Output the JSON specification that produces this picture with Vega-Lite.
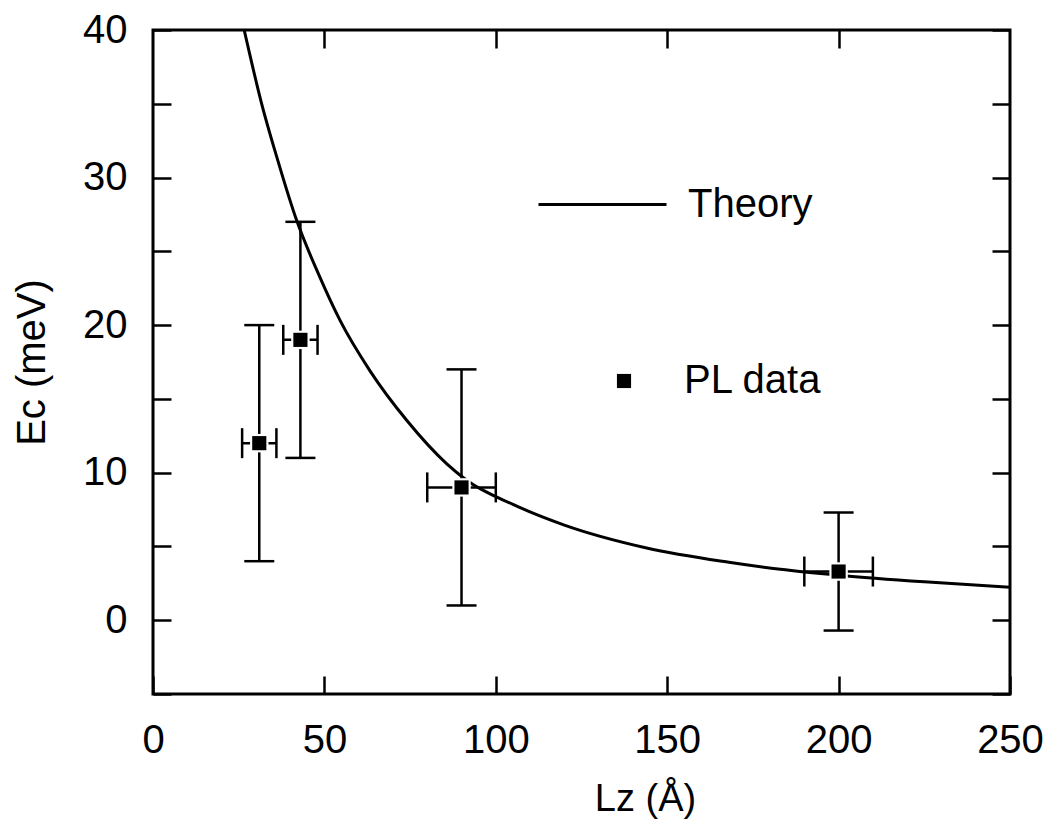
{
  "$schema": "https://vega.github.io/schema/vega-lite/v6.json",
  "width": 857,
  "height": 664,
  "autosize": {"type": "none"},
  "padding": {"left": 153, "top": 30, "right": 38, "bottom": 128},
  "background": "white",
  "config": {
    "view": {"stroke": "black", "strokeWidth": 3},
    "font": "Liberation Sans",
    "axis": {
      "domain": false,
      "grid": false,
      "tickColor": "black",
      "tickWidth": 2.5,
      "tickSize": -18,
      "labelFontSize": 40,
      "labelColor": "black",
      "labelFont": "Liberation Sans",
      "titleFont": "Liberation Sans",
      "titleFontWeight": "normal",
      "titleColor": "black",
      "labelOverlap": false,
      "labelFlush": false
    },
    "legend": {
      "labelFont": "Liberation Sans",
      "labelFontSize": 40,
      "labelColor": "black",
      "labelLimit": 400,
      "padding": 0,
      "title": null
    }
  },
  "datasets": {
    "theory": [
      {"L": 26.6, "E": 40.0},
      {"L": 31.7, "E": 35.0},
      {"L": 36.1, "E": 31.4},
      {"L": 41.9, "E": 27.1},
      {"L": 48.2, "E": 23.5},
      {"L": 54.6, "E": 20.3},
      {"L": 63.3, "E": 16.9},
      {"L": 74, "E": 13.55},
      {"L": 85.7, "E": 10.6},
      {"L": 91.5, "E": 9.49},
      {"L": 105, "E": 7.85},
      {"L": 120, "E": 6.45},
      {"L": 144, "E": 4.9},
      {"L": 168, "E": 3.93},
      {"L": 183, "E": 3.45},
      {"L": 200, "E": 3.05},
      {"L": 225, "E": 2.6},
      {"L": 250, "E": 2.24}
    ],
    "pl": [
      {"L": 31, "E": 12, "Elo": 4, "Ehi": 20, "Llo": 26, "Lhi": 36, "series": "PL data"},
      {"L": 43, "E": 19, "Elo": 11, "Ehi": 27, "Llo": 38, "Lhi": 48, "series": "PL data"},
      {"L": 90, "E": 9, "Elo": 1, "Ehi": 17, "Llo": 80, "Lhi": 100, "series": "PL data"},
      {"L": 200, "E": 3.3, "Elo": -0.7, "Ehi": 7.3, "Llo": 190, "Lhi": 210, "series": "PL data"}
    ]
  },
  "layer": [
    {
      "data": {"name": "theory"},
      "mark": {"type": "line", "strokeWidth": 3, "clip": true, "interpolate": "monotone"},
      "encoding": {
        "x": {
          "field": "L", "type": "quantitative",
          "scale": {"domain": [0, 250], "nice": false, "zero": false},
          "axis": {"orient": "bottom", "values": [0, 50, 100, 150, 200, 250], "title": "Lz (Å)", "titleFontSize": 38, "labelPadding": 44, "titlePadding": 20, "titleX": 492}
        },
        "y": {
          "field": "E", "type": "quantitative",
          "scale": {"domain": [-5, 40], "nice": false, "zero": false},
          "axis": {"orient": "left", "values": [-5, 0, 5, 10, 15, 20, 25, 30, 35, 40], "labelExpr": "datum.value % 10 === 0 ? datum.label : ''", "title": "Ec (meV)", "titleFontSize": 40, "labelPadding": 44, "titlePadding": 30}
        },
        "color": {
          "datum": "Theory",
          "type": "nominal",
          "scale": {"domain": ["Theory"], "range": ["black"]},
          "legend": {
            "orient": "none",
            "legendX": 384,
            "legendY": 109,
            "symbolType": "stroke",
            "symbolSize": 16384,
            "symbolStrokeWidth": 3,
            "symbolStrokeColor": "black",
            "labelOffset": 20
          }
        }
      }
    },
    {
      "data": {"name": "pl"},
      "mark": {"type": "rule", "color": "black", "strokeWidth": 2.5},
      "encoding": {
        "x": {"field": "L", "type": "quantitative", "axis": null},
        "y": {"field": "Elo", "type": "quantitative", "axis": null},
        "y2": {"field": "Ehi"}
      }
    },
    {
      "data": {"name": "pl"},
      "mark": {"type": "rule", "color": "black", "strokeWidth": 2.5},
      "encoding": {
        "x": {"field": "Llo", "type": "quantitative", "axis": null},
        "x2": {"field": "Lhi"},
        "y": {"field": "E", "type": "quantitative", "axis": null}
      }
    },
    {
      "data": {"name": "pl"},
      "mark": {"type": "tick", "orient": "horizontal", "size": 30, "thickness": 2.5, "color": "black", "opacity": 1},
      "encoding": {
        "x": {"field": "L", "type": "quantitative", "axis": null},
        "y": {"field": "Elo", "type": "quantitative", "axis": null}
      }
    },
    {
      "data": {"name": "pl"},
      "mark": {"type": "tick", "orient": "horizontal", "size": 30, "thickness": 2.5, "color": "black", "opacity": 1},
      "encoding": {
        "x": {"field": "L", "type": "quantitative", "axis": null},
        "y": {"field": "Ehi", "type": "quantitative", "axis": null}
      }
    },
    {
      "data": {"name": "pl"},
      "mark": {"type": "tick", "orient": "vertical", "size": 30, "thickness": 2.5, "color": "black", "opacity": 1},
      "encoding": {
        "x": {"field": "Llo", "type": "quantitative", "axis": null},
        "y": {"field": "E", "type": "quantitative", "axis": null}
      }
    },
    {
      "data": {"name": "pl"},
      "mark": {"type": "tick", "orient": "vertical", "size": 30, "thickness": 2.5, "color": "black", "opacity": 1},
      "encoding": {
        "x": {"field": "Lhi", "type": "quantitative", "axis": null},
        "y": {"field": "E", "type": "quantitative", "axis": null}
      }
    },
    {
      "data": {"name": "pl"},
      "mark": {"type": "point", "shape": "square", "filled": true, "size": 340, "color": "white", "opacity": 1},
      "encoding": {
        "x": {"field": "L", "type": "quantitative", "axis": null},
        "y": {"field": "E", "type": "quantitative", "axis": null}
      }
    },
    {
      "data": {"name": "pl"},
      "mark": {"type": "point", "filled": true, "size": 200, "color": "black", "opacity": 1},
      "encoding": {
        "x": {"field": "L", "type": "quantitative", "axis": null},
        "y": {"field": "E", "type": "quantitative", "axis": null},
        "shape": {
          "field": "series", "type": "nominal",
          "scale": {"domain": ["PL data"], "range": ["square"]},
          "legend": {
            "orient": "none",
            "legendX": 451,
            "legendY": 331,
            "symbolSize": 200,
            "symbolFillColor": "black",
            "symbolOpacity": 1,
            "labelOffset": 40
          }
        }
      }
    },
    {
      "data": {"name": "pl"},
      "mark": {"type": "point", "opacity": 0},
      "encoding": {
        "x": {"field": "L", "type": "quantitative", "axis": {"orient": "top", "values": [50, 100, 150, 200], "labels": false, "title": null}},
        "y": {"field": "E", "type": "quantitative", "axis": {"orient": "right", "values": [-5, 0, 5, 10, 15, 20, 25, 30, 35, 40], "labels": false, "title": null}}
      }
    }
  ],
  "resolve": {"axis": {"x": "independent", "y": "independent"}}
}
